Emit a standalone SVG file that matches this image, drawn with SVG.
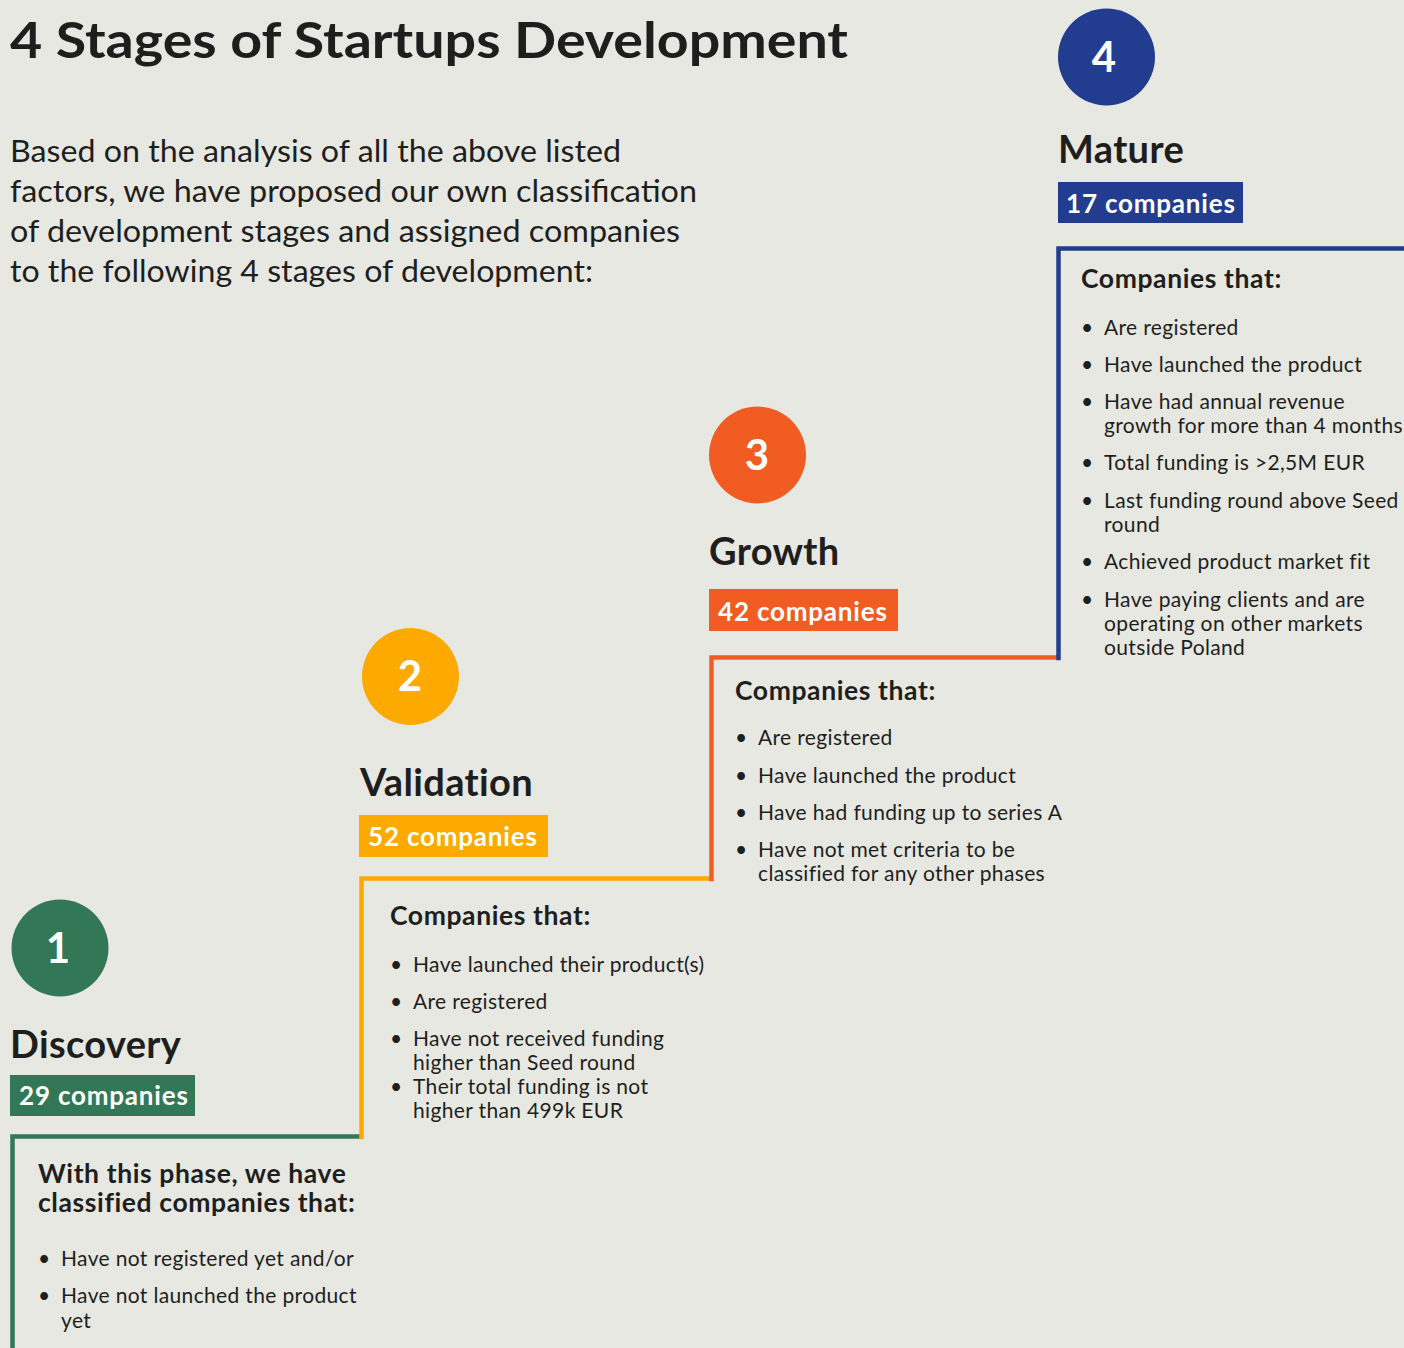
<svg xmlns="http://www.w3.org/2000/svg" width="1404" height="1348" viewBox="0 0 1404 1348">
<style>
.bg{fill:#e8e8e3}
.t{font-family:Lato,"Open Sans",sans-serif;fill:#1e1f1c}
.title{font-size:50px;font-weight:700}
.para{font-size:31px}
.num{font-family:Lato,"Open Sans",sans-serif;font-size:42px;font-weight:700;fill:#fff;text-anchor:middle}
.stage{font-size:38px;font-weight:700;letter-spacing:0.35px}
.badge{font-family:Lato,"Open Sans",sans-serif;font-size:26px;font-weight:700;fill:#fff;letter-spacing:0.8px}
.head{font-size:26.5px;font-weight:700;letter-spacing:0.6px}
.li{font-size:21px;letter-spacing:0.35px}
.ln{fill:none;stroke-width:4.5;stroke-linecap:square}
</style>
<rect class="bg" width="1404" height="1348"/>
<g id="header">
<text class="t title" x="10" y="58" textLength="838" lengthAdjust="spacingAndGlyphs">4 Stages of Startups Development</text>
<text class="t para" x="10" y="162" textLength="611" lengthAdjust="spacingAndGlyphs">Based on the analysis of all the above listed</text>
<text class="t para" x="10" y="202" textLength="687" lengthAdjust="spacingAndGlyphs">factors, we have proposed our own classification</text>
<text class="t para" x="10" y="242" textLength="670" lengthAdjust="spacingAndGlyphs">of development stages and assigned companies</text>
<text class="t para" x="10" y="282" textLength="583" lengthAdjust="spacingAndGlyphs">to the following 4 stages of development:</text>
</g>
<g id="connectors">
<polyline class="ln" stroke="#327756" points="12.5,1348 12.5,1136.5 360,1136.5"/>
<polyline class="ln" stroke="#fcaa00" points="361.5,1137 361.5,878.5 710,878.5"/>
<polyline class="ln" stroke="#f15c22" points="711.5,879 711.5,657.5 1056,657.5"/>
<polyline class="ln" stroke="#223d8f" points="1058.5,658 1058.5,248.5 1406,248.5"/>
</g>
<g id="discovery">
<circle cx="60" cy="948" r="48.5" fill="#327756"/>
<text class="num" x="58" y="963">1</text>
<text class="t stage" x="10" y="1058">Discovery</text>
<rect x="10" y="1075" width="185" height="41" fill="#327756"/>
<text class="badge" x="19" y="1105">29 companies</text>
<text class="t head" x="38" y="1183">With this phase, we have</text>
<text class="t head" x="38" y="1212">classified companies that:</text>
<text class="t li" x="38" y="1266">•</text><text class="t li" x="61" y="1266">Have not registered yet and/or</text>
<text class="t li" x="38" y="1303">•</text><text class="t li" x="61" y="1303">Have not launched the product</text>
<text class="t li" x="61" y="1328">yet</text>
</g>
<g id="validation">
<circle cx="410.5" cy="676.5" r="48.5" fill="#fcaa00"/>
<text class="num" x="410" y="691">2</text>
<text class="t stage" x="360" y="796">Validation</text>
<rect x="359" y="815" width="189" height="42" fill="#fcaa00"/>
<text class="badge" x="368" y="846">52 companies</text>
<text class="t head" x="390" y="925">Companies that:</text>
<text class="t li" x="390" y="972">•</text><text class="t li" x="413" y="972">Have launched their product(s)</text>
<text class="t li" x="390" y="1009">•</text><text class="t li" x="413" y="1009">Are registered</text>
<text class="t li" x="390" y="1046">•</text><text class="t li" x="413" y="1046">Have not received funding</text>
<text class="t li" x="413" y="1070">higher than Seed round</text>
<text class="t li" x="390" y="1094">•</text><text class="t li" x="413" y="1094">Their total funding is not</text>
<text class="t li" x="413" y="1118">higher than 499k EUR</text>
</g>
<g id="growth">
<circle cx="757.5" cy="455" r="48.5" fill="#f15c22"/>
<text class="num" x="757" y="470">3</text>
<text class="t stage" x="709" y="565">Growth</text>
<rect x="709" y="589" width="189" height="42" fill="#f15c22"/>
<text class="badge" x="718" y="621">42 companies</text>
<text class="t head" x="735" y="700">Companies that:</text>
<text class="t li" x="735" y="745">•</text><text class="t li" x="758" y="745">Are registered</text>
<text class="t li" x="735" y="783">•</text><text class="t li" x="758" y="783">Have launched the product</text>
<text class="t li" x="735" y="820">•</text><text class="t li" x="758" y="820">Have had funding up to series A</text>
<text class="t li" x="735" y="857">•</text><text class="t li" x="758" y="857">Have not met criteria to be</text>
<text class="t li" x="758" y="881">classified for any other phases</text>
</g>
<g id="mature">
<circle cx="1106.5" cy="57" r="48.5" fill="#223d8f"/>
<text class="num" x="1104" y="72">4</text>
<text class="t stage" x="1058" y="163">Mature</text>
<rect x="1058" y="182" width="185" height="41" fill="#223d8f"/>
<text class="badge" x="1066" y="213">17 companies</text>
<text class="t head" x="1081" y="288">Companies that:</text>
<text class="t li" x="1081" y="335">•</text><text class="t li" x="1104" y="335">Are registered</text>
<text class="t li" x="1081" y="372">•</text><text class="t li" x="1104" y="372">Have launched the product</text>
<text class="t li" x="1081" y="409">•</text><text class="t li" x="1104" y="409">Have had annual revenue</text>
<text class="t li" x="1104" y="433">growth for more than 4 months</text>
<text class="t li" x="1081" y="470">•</text><text class="t li" x="1104" y="470">Total funding is &gt;2,5M EUR</text>
<text class="t li" x="1081" y="508">•</text><text class="t li" x="1104" y="508">Last funding round above Seed</text>
<text class="t li" x="1104" y="532">round</text>
<text class="t li" x="1081" y="569">•</text><text class="t li" x="1104" y="569">Achieved product market fit</text>
<text class="t li" x="1081" y="607">•</text><text class="t li" x="1104" y="607">Have paying clients and are</text>
<text class="t li" x="1104" y="631">operating on other markets</text>
<text class="t li" x="1104" y="655">outside Poland</text>
</g>
</svg>
